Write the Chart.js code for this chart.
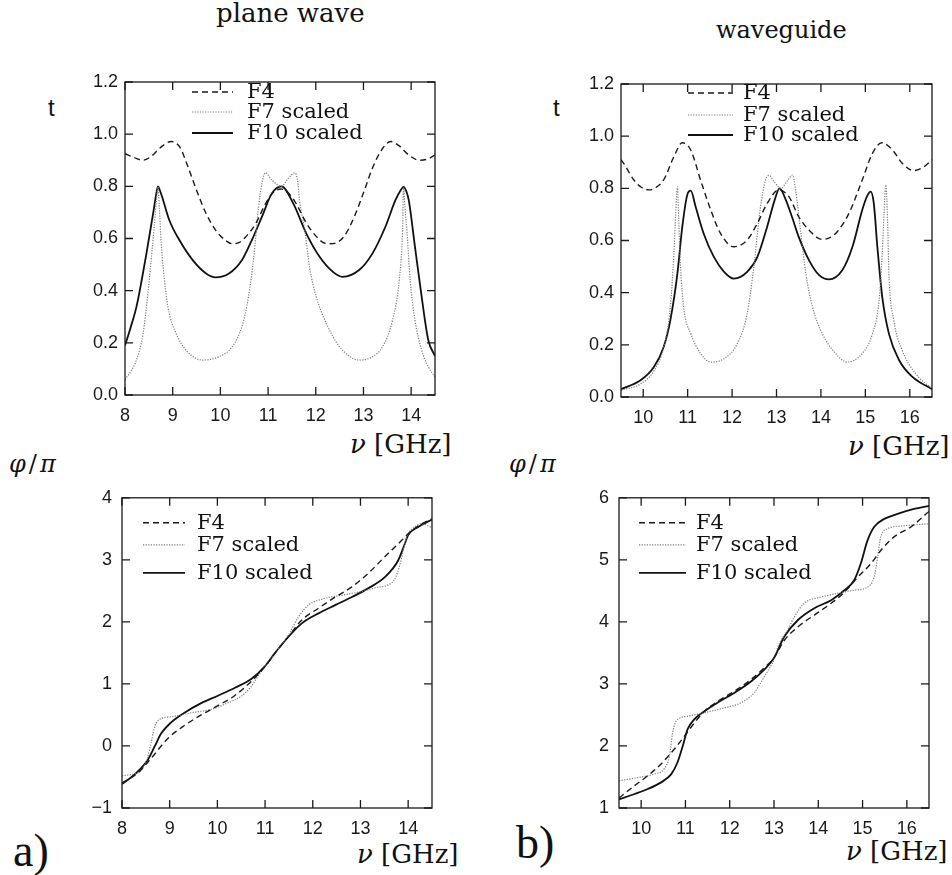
<!DOCTYPE html>
<html>
<head>
<meta charset="utf-8">
<script src="https://cdn.jsdelivr.net/npm/chart.js@4.4.1/dist/chart.umd.min.js"></script>
<style>
  body { margin: 0; background: #fff; }
  #page { position: relative; width: 952px; height: 875px; overflow: hidden; background: #fff; }
  #page canvas { position: absolute; }
  .lbl { position: absolute; white-space: nowrap; color: #111; line-height: 1; }
  .serif { font-family: "DejaVu Serif", serif; }
  .rm { font-family: "Liberation Serif", serif; }
  .sans { font-family: "Liberation Sans", Arial, sans-serif; }
</style>
</head>
<body>
<div id="page">
  <div class="lbl serif" style="left:216px; top:0px; font-size:26px">plane wave</div>
  <div class="lbl serif" style="left:716px; top:18px; font-size:24px">waveguide</div>

  <div class="lbl sans" style="left:48px; top:96px; font-size:24px">t</div>
  <div class="lbl sans" style="left:553px; top:96px; font-size:24px">t</div>

  <div class="lbl serif" style="left:350px; top:431px; font-size:26px"><i>ν</i> [GHz]</div>
  <div class="lbl serif" style="left:848px; top:433px; font-size:26px"><i>ν</i> [GHz]</div>

  <div class="lbl serif" style="left:9px; top:452px; font-size:24px; letter-spacing:3px"><i>φ</i>/<i>π</i></div>
  <div class="lbl serif" style="left:509px; top:452px; font-size:24px; letter-spacing:3px"><i>φ</i>/<i>π</i></div>

  <div class="lbl serif" style="left:357px; top:841px; font-size:26px"><i>ν</i> [GHz]</div>
  <div class="lbl serif" style="left:846px; top:838px; font-size:26px"><i>ν</i> [GHz]</div>

  <div class="lbl rm" style="left:13px; top:828px; font-size:46px">a)</div>
  <div class="lbl rm" style="left:516px; top:820px; font-size:46px">b)</div>

  <canvas id="planeT"></canvas>
  <canvas id="guideT"></canvas>
  <canvas id="planePhi"></canvas>
  <canvas id="guidePhi"></canvas>
</div>

<script>
/* ---- axis ticks ---- */
const planeFreqTicks = [8, 9, 10, 11, 12, 13, 14];
const guideFreqTicks = [10, 11, 12, 13, 14, 15, 16];
const transTicks = [0, 0.2, 0.4, 0.6, 0.8, 1.0, 1.2];
const planePhaseTicks = [-1, 0, 1, 2, 3, 4];
const guidePhaseTicks = [1, 2, 3, 4, 5, 6];
const seriesNames = ['F4', 'F7 scaled', 'F10 scaled'];

/* ---- a) plane wave, transmission t ---- */
const planeT_F4_x = [8.0, 8.2, 8.37, 8.55, 8.75, 8.97, 9.15, 9.3, 9.5, 9.7, 9.9, 10.1, 10.25, 10.4, 10.55, 10.75, 10.95, 11.1, 11.27, 11.45, 11.6, 11.8, 12.0, 12.15, 12.29, 12.45, 12.6, 12.8, 13.0, 13.2, 13.4, 13.57, 13.75, 13.95, 14.17, 14.35, 14.5];
const planeT_F4_y = [0.925, 0.91, 0.90, 0.915, 0.95, 0.972, 0.95, 0.885, 0.785, 0.696, 0.632, 0.594, 0.58, 0.585, 0.61, 0.66, 0.735, 0.775, 0.79, 0.77, 0.73, 0.66, 0.61, 0.585, 0.58, 0.585, 0.61, 0.68, 0.775, 0.875, 0.945, 0.972, 0.955, 0.92, 0.90, 0.905, 0.92];

const planeT_F7_x = [8.0, 8.12, 8.24, 8.38, 8.48, 8.54, 8.61, 8.66, 8.69, 8.72, 8.76, 8.8, 8.9, 9.07, 9.28, 9.49, 9.62, 9.97, 10.25, 10.45, 10.59, 10.7, 10.8, 10.87, 10.94, 11.08, 11.28, 11.42, 11.56, 11.62, 11.66, 11.77, 11.87, 12.01, 12.22, 12.5, 12.91, 13.19, 13.4, 13.61, 13.75, 13.82, 13.84, 13.87, 13.91, 13.98, 14.08, 14.22, 14.36, 14.5];
const planeT_F7_y = [0.06, 0.09, 0.134, 0.236, 0.39, 0.5, 0.64, 0.747, 0.798, 0.72, 0.58, 0.49, 0.338, 0.236, 0.172, 0.14, 0.134, 0.147, 0.185, 0.262, 0.377, 0.53, 0.72, 0.81, 0.852, 0.824, 0.80, 0.83, 0.852, 0.82, 0.747, 0.632, 0.49, 0.377, 0.275, 0.185, 0.134, 0.147, 0.185, 0.287, 0.44, 0.632, 0.795, 0.72, 0.632, 0.44, 0.287, 0.172, 0.108, 0.07];

const planeT_F10_x = [8.0, 8.12, 8.24, 8.35, 8.45, 8.52, 8.59, 8.65, 8.69, 8.74, 8.8, 8.93, 9.14, 9.42, 9.7, 9.9, 10.18, 10.45, 10.66, 10.87, 11.08, 11.28, 11.53, 11.8, 12.08, 12.36, 12.56, 12.91, 13.19, 13.46, 13.67, 13.78, 13.84, 13.9, 13.95, 14.08, 14.22, 14.36, 14.5];
const planeT_F10_y = [0.19, 0.26, 0.338, 0.44, 0.543, 0.62, 0.696, 0.765, 0.80, 0.78, 0.747, 0.67, 0.594, 0.517, 0.466, 0.451, 0.466, 0.517, 0.594, 0.683, 0.773, 0.80, 0.734, 0.62, 0.53, 0.472, 0.453, 0.479, 0.543, 0.645, 0.747, 0.785, 0.798, 0.78, 0.747, 0.568, 0.377, 0.21, 0.15];

/* ---- b) waveguide, transmission t ---- */
const guideT_F4_x = [9.5, 9.56, 9.79, 9.95, 10.13, 10.3, 10.46, 10.69, 10.88, 11.07, 11.29, 11.52, 11.74, 12.04, 12.34, 12.57, 12.79, 13.05, 13.28, 13.5, 13.73, 14.03, 14.33, 14.63, 14.93, 15.16, 15.37, 15.61, 15.83, 16.09, 16.32, 16.5];
const guideT_F4_y = [0.91, 0.896, 0.832, 0.805, 0.794, 0.805, 0.832, 0.921, 0.975, 0.947, 0.832, 0.717, 0.627, 0.576, 0.602, 0.666, 0.742, 0.794, 0.768, 0.691, 0.64, 0.604, 0.627, 0.704, 0.832, 0.934, 0.975, 0.947, 0.896, 0.868, 0.883, 0.91];

const guideT_F7_x = [9.5, 9.94, 10.24, 10.46, 10.61, 10.69, 10.73, 10.77, 10.8, 10.84, 10.91, 11.07, 11.29, 11.52, 11.82, 12.12, 12.34, 12.49, 12.64, 12.75, 12.83, 12.95, 13.1, 13.25, 13.36, 13.43, 13.54, 13.66, 13.81, 14.03, 14.33, 14.59, 14.93, 15.16, 15.31, 15.38, 15.42, 15.46, 15.5, 15.53, 15.64, 15.83, 16.13, 16.5];
const guideT_F7_y = [0.026, 0.05, 0.10, 0.19, 0.345, 0.55, 0.70, 0.806, 0.678, 0.50, 0.345, 0.243, 0.167, 0.134, 0.147, 0.205, 0.32, 0.50, 0.729, 0.83, 0.85, 0.825, 0.80, 0.83, 0.851, 0.794, 0.64, 0.474, 0.345, 0.243, 0.167, 0.134, 0.167, 0.243, 0.371, 0.55, 0.70, 0.813, 0.678, 0.474, 0.294, 0.179, 0.09, 0.032];

const guideT_F10_x = [9.5, 9.94, 10.24, 10.46, 10.61, 10.77, 10.88, 10.99, 11.07, 11.18, 11.36, 11.59, 11.82, 12.04, 12.34, 12.57, 12.79, 12.95, 13.07, 13.2, 13.35, 13.5, 13.73, 13.96, 14.18, 14.48, 14.71, 14.93, 15.04, 15.12, 15.19, 15.27, 15.38, 15.53, 15.76, 16.06, 16.5];
const guideT_F10_y = [0.03, 0.064, 0.115, 0.192, 0.294, 0.474, 0.653, 0.774, 0.791, 0.729, 0.627, 0.537, 0.48, 0.454, 0.48, 0.537, 0.653, 0.75, 0.80, 0.76, 0.69, 0.614, 0.525, 0.467, 0.451, 0.486, 0.576, 0.717, 0.77, 0.787, 0.742, 0.576, 0.384, 0.243, 0.141, 0.077, 0.03];

/* ---- a) plane wave, phase phi/pi ---- */
const planePhi_F4_x = [8.0, 8.34, 8.61, 8.96, 9.31, 9.66, 10.01, 10.36, 10.71, 10.99, 11.21, 11.49, 11.77, 12.12, 12.47, 12.82, 13.16, 13.51, 13.86, 14.0, 14.28, 14.5];
const planePhi_F4_y = [-0.6, -0.43, -0.2, 0.12, 0.33, 0.5, 0.65, 0.81, 1.04, 1.27, 1.5, 1.763, 2.03, 2.22, 2.40, 2.564, 2.78, 3.05, 3.31, 3.42, 3.58, 3.66];

const planePhi_F7_x = [8.0, 8.2, 8.34, 8.45, 8.53, 8.61, 8.69, 8.79, 9.03, 9.45, 9.87, 10.22, 10.5, 10.71, 10.85, 10.99, 11.21, 11.49, 11.7, 11.91, 12.26, 12.61, 12.96, 13.31, 13.59, 13.72, 13.83, 13.93, 14.0, 14.14, 14.28, 14.5];
const planePhi_F7_y = [-0.48, -0.46, -0.43, -0.34, -0.2, 0.05, 0.32, 0.43, 0.47, 0.535, 0.59, 0.695, 0.80, 0.96, 1.12, 1.28, 1.5, 1.79, 2.08, 2.27, 2.38, 2.43, 2.48, 2.55, 2.6, 2.69, 2.93, 3.26, 3.42, 3.53, 3.58, 3.52];

const planePhi_F10_x = [8.0, 8.27, 8.55, 8.69, 8.82, 9.03, 9.31, 9.66, 10.01, 10.36, 10.71, 10.99, 11.21, 11.49, 11.77, 12.12, 12.47, 12.82, 13.16, 13.51, 13.79, 13.93, 14.0, 14.21, 14.5];
const planePhi_F10_y = [-0.614, -0.454, -0.213, 0.0, 0.2, 0.38, 0.535, 0.69, 0.81, 0.935, 1.08, 1.28, 1.5, 1.76, 1.976, 2.137, 2.27, 2.40, 2.54, 2.72, 2.99, 3.26, 3.4, 3.53, 3.65];

/* ---- b) waveguide, phase phi/pi ---- */
const guidePhi_F4_x = [9.5, 9.85, 10.15, 10.45, 10.75, 10.98, 11.2, 11.43, 11.73, 12.1, 12.48, 12.78, 13.0, 13.23, 13.54, 13.91, 14.29, 14.59, 14.89, 15.19, 15.41, 15.71, 16.09, 16.5];
const guidePhi_F4_y = [1.16, 1.36, 1.52, 1.71, 1.95, 2.16, 2.37, 2.56, 2.72, 2.88, 3.07, 3.26, 3.42, 3.7, 3.92, 4.11, 4.30, 4.48, 4.72, 4.94, 5.15, 5.37, 5.53, 5.78];

const guidePhi_F7_x = [9.5, 9.92, 10.3, 10.52, 10.64, 10.71, 10.79, 11.05, 11.43, 11.88, 12.25, 12.55, 12.7, 12.85, 13.0, 13.09, 13.31, 13.46, 13.68, 14.06, 14.44, 14.81, 15.11, 15.26, 15.34, 15.41, 15.56, 15.94, 16.5];
const guidePhi_F7_y = [1.44, 1.49, 1.55, 1.63, 1.84, 2.21, 2.4, 2.48, 2.535, 2.615, 2.695, 2.855, 3.02, 3.2, 3.39, 3.6, 3.87, 4.08, 4.30, 4.40, 4.46, 4.51, 4.56, 4.72, 5.04, 5.37, 5.5, 5.55, 5.58];

const guidePhi_F10_x = [9.5, 9.85, 10.15, 10.45, 10.68, 10.82, 10.94, 11.05, 11.2, 11.43, 11.73, 12.1, 12.48, 12.78, 13.0, 13.23, 13.54, 13.91, 14.29, 14.59, 14.81, 14.96, 15.11, 15.26, 15.49, 15.79, 16.16, 16.5];
const guidePhi_F10_y = [1.14, 1.226, 1.306, 1.413, 1.546, 1.733, 2.0, 2.27, 2.43, 2.56, 2.70, 2.855, 3.04, 3.23, 3.42, 3.76, 4.03, 4.22, 4.35, 4.51, 4.67, 4.94, 5.31, 5.53, 5.66, 5.74, 5.82, 5.87];

/* ---- drawing ---- */
const PAD_L = 70, PAD_R = 20, PAD_T = 20, PAD_B = 40;
const INK = '#1a1a1a';
const tickFont = { family: '"Liberation Sans", Arial, sans-serif', size: 18 };

const lineStyles = [
    { borderColor: '#1a1a1a', borderWidth: 1.4, borderDash: [6, 4] },
    { borderColor: '#7a7a7a', borderWidth: 1.2, borderDash: [1.2, 1.4] },
    { borderColor: '#111111', borderWidth: 1.8, borderDash: [] }
];

// plot frame with inward ticks on all four sides
const framePlugin = {
    id: 'frame',
    afterDatasetsDraw(chart) {
        const { ctx, chartArea: a, scales: { x, y } } = chart;
        ctx.save();
        ctx.strokeStyle = INK;
        ctx.lineWidth = 1.3;
        ctx.strokeRect(a.left, a.top, a.right - a.left, a.bottom - a.top);
        ctx.beginPath();
        x.ticks.forEach(t => {
            const px = x.getPixelForValue(t.value);
            ctx.moveTo(px, a.bottom); ctx.lineTo(px, a.bottom - 8);
            ctx.moveTo(px, a.top); ctx.lineTo(px, a.top + 8);
        });
        y.ticks.forEach(t => {
            const py = y.getPixelForValue(t.value);
            ctx.moveTo(a.left, py); ctx.lineTo(a.left + 8, py);
            ctx.moveTo(a.right, py); ctx.lineTo(a.right - 8, py);
        });
        ctx.stroke();
        ctx.restore();
    }
};

// legend drawn inside the plot, upper left
const legendPlugin = {
    id: 'insetLegend',
    afterDraw(chart, args, opts) {
        const { ctx, chartArea: a } = chart;
        ctx.save();
        chart.data.datasets.forEach((ds, i) => {
            const yy = a.top + opts.rows[i];
            ctx.strokeStyle = ds.borderColor;
            ctx.lineWidth = ds.borderWidth;
            ctx.setLineDash(ds.borderDash);
            ctx.beginPath();
            ctx.moveTo(a.left + opts.lineFrom, yy);
            ctx.lineTo(a.left + opts.lineTo, yy);
            ctx.stroke();
            ctx.setLineDash([]);
            ctx.fillStyle = '#111';
            ctx.font = '21px "DejaVu Serif", serif';
            ctx.textBaseline = 'middle';
            ctx.fillText(ds.label, a.left + opts.textX, yy + 1);
        });
        ctx.restore();
    }
};

function makeChart(id, box, cfg) {
    const cv = document.getElementById(id);
    const w = box.right - box.left + PAD_L + PAD_R;
    const h = box.bottom - box.top + PAD_T + PAD_B;
    cv.width = w; cv.height = h;
    cv.style.width = w + 'px'; cv.style.height = h + 'px';
    cv.style.left = (box.left - PAD_L) + 'px';
    cv.style.top = (box.top - PAD_T) + 'px';

    return new Chart(cv, {
        type: 'line',
        data: {
            datasets: cfg.series.map((s, i) => ({
                label: seriesNames[i],
                data: s[0].map((x, k) => ({ x: x, y: s[1][k] })),
                ...lineStyles[i],
                pointRadius: 0,
                fill: false,
                cubicInterpolationMode: 'monotone'
            }))
        },
        options: {
            responsive: false,
            animation: false,
            devicePixelRatio: 1,
            layout: { padding: { left: 0, top: PAD_T, right: PAD_R, bottom: 0 } },
            plugins: {
                legend: { display: false },
                tooltip: { enabled: false },
                insetLegend: cfg.legend
            },
            scales: {
                x: {
                    type: 'linear', min: cfg.xRange[0], max: cfg.xRange[1],
                    grid: { display: false, drawTicks: false },
                    border: { display: false },
                    afterBuildTicks: ax => { ax.ticks = cfg.xTicks.map(v => ({ value: v })); },
                    afterFit: ax => { ax.height = PAD_B; },
                    ticks: { font: tickFont, color: INK, padding: 10, maxRotation: 0, autoSkip: false, callback: v => String(v) }
                },
                y: {
                    type: 'linear', min: cfg.yRange[0], max: cfg.yRange[1],
                    grid: { display: false, drawTicks: false },
                    border: { display: false },
                    afterBuildTicks: ax => { ax.ticks = cfg.yTicks.map(v => ({ value: v })); },
                    afterFit: ax => { ax.width = PAD_L; },
                    ticks: { font: tickFont, color: INK, padding: cfg.yPad, autoSkip: false, callback: cfg.yFmt }
                }
            }
        },
        plugins: [framePlugin, legendPlugin]
    });
}

const oneDecimal = v => v.toFixed(1);
const intMinus = v => (v < 0 ? '\u2212' : '') + Math.abs(v);

makeChart('planeT', { left: 125, right: 435, top: 82, bottom: 395 }, {
    xRange: [8, 14.5], yRange: [0, 1.2], xTicks: planeFreqTicks, yTicks: transTicks, yFmt: oneDecimal, yPad: 7,
    series: [[planeT_F4_x, planeT_F4_y], [planeT_F7_x, planeT_F7_y], [planeT_F10_x, planeT_F10_y]],
    legend: { lineFrom: 67, lineTo: 108, textX: 122, rows: [10, 30, 51] }
});

makeChart('guideT', { left: 621, right: 932, top: 84, bottom: 397 }, {
    xRange: [9.5, 16.5], yRange: [0, 1.2], xTicks: guideFreqTicks, yTicks: transTicks, yFmt: oneDecimal, yPad: 7,
    series: [[guideT_F4_x, guideT_F4_y], [guideT_F7_x, guideT_F7_y], [guideT_F10_x, guideT_F10_y]],
    legend: { lineFrom: 67, lineTo: 112, textX: 122, rows: [9, 31, 51] }
});

makeChart('planePhi', { left: 122, right: 432, top: 497, bottom: 808 }, {
    xRange: [8, 14.5], yRange: [-1, 4], xTicks: planeFreqTicks, yTicks: planePhaseTicks, yFmt: intMinus, yPad: 10,
    series: [[planePhi_F4_x, planePhi_F4_y], [planePhi_F7_x, planePhi_F7_y], [planePhi_F10_x, planePhi_F10_y]],
    legend: { lineFrom: 21, lineTo: 63, textX: 75, rows: [25, 47, 75] }
});

makeChart('guidePhi', { left: 619, right: 929, top: 497, bottom: 808 }, {
    xRange: [9.5, 16.5], yRange: [1, 6], xTicks: guideFreqTicks, yTicks: guidePhaseTicks, yFmt: intMinus, yPad: 10,
    series: [[guidePhi_F4_x, guidePhi_F4_y], [guidePhi_F7_x, guidePhi_F7_y], [guidePhi_F10_x, guidePhi_F10_y]],
    legend: { lineFrom: 20, lineTo: 67, textX: 77, rows: [25, 47, 75] }
});
</script>
</body>
</html>
